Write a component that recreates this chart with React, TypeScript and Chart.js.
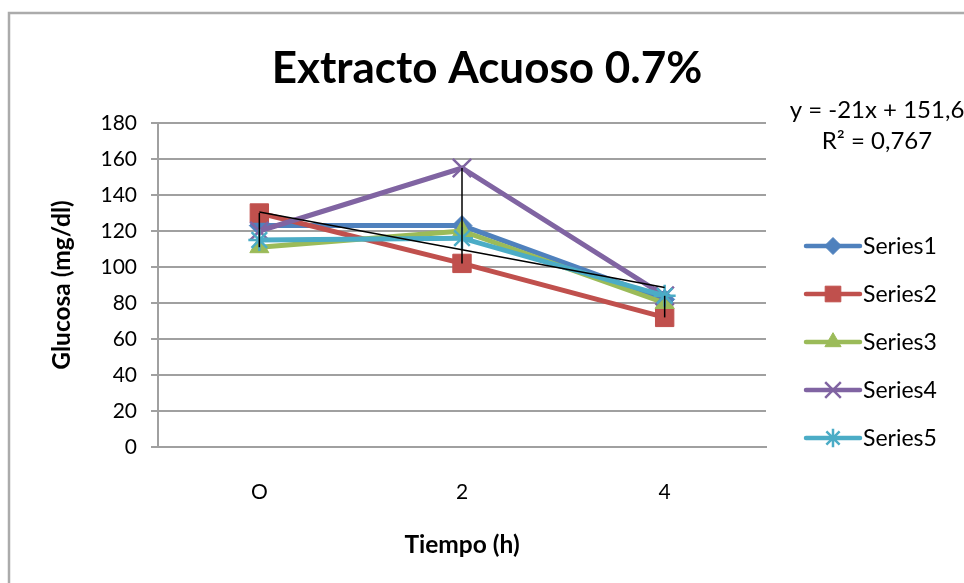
import { useEffect, useRef } from 'react';
import { Chart, registerables } from 'chart.js';
import { drawPoint } from 'chart.js/helpers';

Chart.register(...registerables);

// Sampling times (h) and glucose readings (mg/dl) per series
const timeLabels = ['O', '2', '4'];
const series1 = [123, 123, 82];
const series2 = [130, 102, 72];
const series3 = [111, 120, 80];
const series4 = [120, 155, 84];
const series5 = [115, 116, 84];
const seriesNames = ['Series1', 'Series2', 'Series3', 'Series4', 'Series5'];

// Linear trend fitted over the sampling index (1, 2, 3)
const trendSlope = -21;
const trendIntercept = 151.6;
const trendEquation = 'y = -21x + 151,6';
const trendR2 = 'R² = 0,767';

const chartTitle = 'Extracto Acuoso 0.7%';
const yMin = 0;
const yMax = 180;
const yStep = 20;

const FONT = 'Lato, "Open Sans", sans-serif';

type SeriesStyle = {
  color: string;
  pointStyle: string;
  radius: number;
  pointBorder: number;
};

const styles: SeriesStyle[] = [
  { color: '#4F81BD', pointStyle: 'rectRot', radius: 10, pointBorder: 1 },
  { color: '#C0504D', pointStyle: 'rect', radius: 13, pointBorder: 1 },
  { color: '#9BBB59', pointStyle: 'triangle', radius: 11, pointBorder: 1 },
  { color: '#8064A2', pointStyle: 'crossRot', radius: 13, pointBorder: 2.5 },
  { color: '#4BACC6', pointStyle: 'star', radius: 11, pointBorder: 2.5 },
];

const allSeries = [series1, series2, series3, series4, series5];

// Outer chart frame (only its left and top edges fall inside the canvas)
const framePlugin = {
  id: 'frame',
  beforeDraw(chart: any) {
    const { ctx } = chart;
    ctx.save();
    ctx.strokeStyle = '#ababab';
    ctx.lineWidth = 2.5;
    ctx.strokeRect(9, 13, 1200, 1000);
    ctx.restore();
  },
};

// Vertical min–max range bar at each sampling time
const rangePlugin = {
  id: 'rangeBars',
  afterDatasetsDraw(chart: any) {
    const { ctx, scales } = chart;
    ctx.save();
    ctx.strokeStyle = '#000';
    ctx.lineWidth = 1.5;
    timeLabels.forEach((_, i) => {
      const vals = allSeries.map((s) => s[i]);
      const lo = Math.min(...vals);
      const hi = Math.max(...vals);
      const x = scales.x.getPixelForValue(i);
      ctx.beginPath();
      ctx.moveTo(x, scales.y.getPixelForValue(hi));
      ctx.lineTo(x, scales.y.getPixelForValue(lo));
      ctx.stroke();
    });
    ctx.restore();
  },
};

// Title, legend with line + marker swatches, and the trend equation
const sideTextPlugin = {
  id: 'sideText',
  afterDraw(chart: any) {
    const { ctx } = chart;
    ctx.save();
    ctx.fillStyle = '#000';
    ctx.textAlign = 'center';
    ctx.textBaseline = 'middle';
    ctx.font = `bold 44px ${FONT}`;
    ctx.fillText(chartTitle, 487, 69);

    ctx.font = `24px ${FONT}`;
    ctx.fillText(trendEquation, 877, 110);
    ctx.fillText(trendR2, 877, 141);

    const x0 = 806;
    const x1 = 860;
    seriesNames.forEach((name, i) => {
      const st = styles[i];
      const y = 246 + i * 48;
      ctx.strokeStyle = st.color;
      ctx.fillStyle = st.color;
      ctx.lineWidth = 4.5;
      ctx.lineCap = 'round';
      ctx.beginPath();
      ctx.moveTo(x0, y);
      ctx.lineTo(x1, y);
      ctx.stroke();
      ctx.lineCap = 'butt';
      ctx.lineWidth = st.pointBorder;
      drawPoint(ctx, { pointStyle: st.pointStyle as any, radius: st.radius * 0.85, rotation: 0, borderWidth: st.pointBorder } as any, (x0 + x1) / 2, y);
      ctx.fillStyle = '#000';
      ctx.textAlign = 'left';
      ctx.font = `23px ${FONT}`;
      ctx.fillText(name, 863, y + 1);
    });
    ctx.restore();
  },
};

export default function App() {
  const canvasRef = useRef<HTMLCanvasElement | null>(null);

  useEffect(() => {
    if (!canvasRef.current) return;

    const trendData = timeLabels.map((_, i) => trendSlope * (i + 1) + trendIntercept);

    const datasets: any[] = allSeries.map((values, i) => ({
      label: seriesNames[i],
      data: values,
      borderColor: styles[i].color,
      backgroundColor: styles[i].color,
      borderWidth: 5,
      pointStyle: styles[i].pointStyle,
      pointRadius: styles[i].radius,
      pointHoverRadius: styles[i].radius,
      pointBorderWidth: styles[i].pointBorder,
      pointBackgroundColor: styles[i].color,
      pointBorderColor: styles[i].color,
      tension: 0,
      order: 6 - i,
    }));

    datasets.push({
      label: 'Trend',
      data: trendData,
      borderColor: '#000',
      borderWidth: 1.5,
      pointRadius: 0,
      tension: 0,
      order: 0,
    });

    const chart = new Chart(canvasRef.current, {
      type: 'line',
      data: { labels: timeLabels, datasets },
      options: {
        responsive: false,
        animation: false,
        layout: { padding: { left: 0, right: 198, top: 123, bottom: 0 } },
        plugins: {
          legend: { display: false },
          tooltip: { enabled: false },
          title: { display: false },
        },
        scales: {
          x: {
            type: 'category',
            offset: true,
            grid: { display: false, drawTicks: false },
            border: { display: true, color: '#a0a0a0', width: 2 },
            ticks: { color: '#000', font: { family: FONT, size: 21 }, padding: 33 },
            title: {
              display: true,
              text: 'Tiempo (h)',
              color: '#000',
              font: { family: FONT, size: 24.5, weight: 'bold', lineHeight: 1.2 },
              padding: { top: 0, bottom: 23.3 },
            },
            afterFit(scale: any) {
              scale.height = 136;
            },
          },
          y: {
            min: yMin,
            max: yMax,
            ticks: { stepSize: yStep, color: '#000', font: { family: FONT, size: 21 }, padding: 14 },
            grid: { color: '#a0a0a0', lineWidth: 2, drawTicks: true, tickLength: 7 },
            border: { display: true, color: '#a0a0a0', width: 2 },
            title: {
              display: true,
              text: 'Glucosa (mg/dl)',
              color: '#000',
              font: { family: FONT, size: 24.5, weight: 'bold', lineHeight: 1.2 },
              padding: { top: 47.3, bottom: 0 },
            },
            afterFit(scale: any) {
              scale.width = 158;
            },
          },
        },
      },
      plugins: [framePlugin, rangePlugin, sideTextPlugin],
    });

    return () => chart.destroy();
  }, []);

  return (
    <div style={{ position: 'absolute', left: 0, top: 0, width: 964, height: 583, background: '#fff' }}>
      <canvas ref={canvasRef} width={964} height={583} style={{ display: 'block' }} />
    </div>
  );
}
